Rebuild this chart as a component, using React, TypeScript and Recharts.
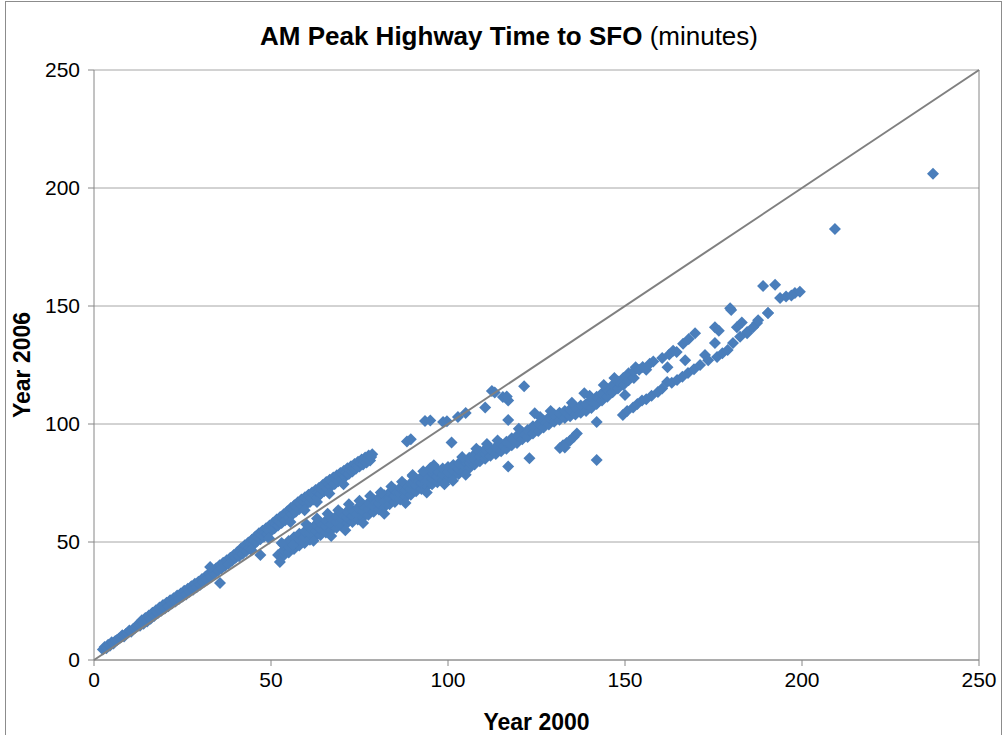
import { CartesianGrid, ReferenceLine, Scatter, ScatterChart, XAxis, YAxis } from "recharts";

type Pt = [number, number];

// dense band just above the diagonal (short trips)
const upperBand: Pt[] = [
  [2.5, 4.5], [3, 5.5], [3.5, 5], [4, 6.5], [4.5, 6], [5, 7.5], [5.5, 7], [6, 8], [6.5, 8.5], [7, 9],
  [7.5, 9.5], [8, 10.5], [8.5, 10], [9, 11], [9.5, 11.5], [10, 12.5], [10.5, 12], [11, 13], [11.5, 13.5],
  [12, 14.5], [12.5, 15],
  [13, 14.5], [13.5, 16.8], [14, 15.4], [14.5, 17.8], [15, 16.3], [15.5, 18.9], [16, 17.5], [16.5, 20],
  [17, 18.6], [17.5, 21.1], [18, 19.8], [18.5, 22.2], [19, 20.9], [19.5, 23.3], [20, 21.8], [20.5, 24.3],
  [21, 22.8], [21.5, 25.3], [22, 23.9], [22.5, 26.2], [23, 24.8], [23.5, 27.3], [24, 25.8], [24.5, 28.2],
  [25, 26.9], [25.5, 29.3], [26, 27.8], [26.5, 30.2], [27, 28.9], [27.5, 31.3], [28, 29.8], [28.5, 32.3],
  [29, 30.8], [29.5, 33.2], [30, 31.9], [30.5, 34.3], [31, 33], [31.5, 35.4], [32, 34.1], [32.5, 36.6],
  [33, 35.3], [33.5, 37.7], [34, 36.5], [34.5, 38.9], [35, 37.8], [35.5, 40.2], [36, 38.8], [36.5, 41.2],
  [37, 39.8], [37.5, 42.3], [38, 40.8], [38.5, 43.3], [39, 42.1], [39.5, 44.5], [40, 43.3], [40.5, 45.8],
  [41, 44], [41.3, 45.7], [41.6, 47.4], [42, 45], [42.3, 46.8], [42.6, 48.6], [43, 46.2], [43.3, 48], [43.6, 49.8],
  [44, 47.5], [44.3, 49.3], [44.6, 51], [45, 48.8], [45.3, 50.6], [45.6, 52.3], [46, 50.2], [46.3, 52], [46.6, 53.7],
  [47, 51.2], [47.3, 53], [47.6, 54.8], [48, 52.2], [48.3, 54], [48.6, 55.8], [49, 53.4], [49.3, 55.2], [49.6, 57],
  [50, 54.7], [50.3, 56.5], [50.6, 58.2], [51, 55.8], [51.3, 57.7], [51.6, 59.5], [52, 57], [52.3, 58.8], [52.6, 60.6],
  [53, 58], [53.3, 60], [53.6, 61.8], [54, 59.2], [54.3, 61.2], [54.6, 63], [55, 60.4], [55.3, 62.5], [55.6, 64.4],
  [56, 61.6], [56.3, 63.7], [56.6, 65.6], [57, 62.8], [57.3, 64.8], [57.6, 66.8], [58, 64], [58.3, 66], [58.6, 68],
  [59, 65], [59.3, 67], [59.6, 69], [60, 66], [60.3, 68], [60.6, 70], [61, 67], [61.3, 69], [61.6, 71],
  [62, 68], [62.3, 70], [62.6, 72], [63, 69], [63.3, 71], [63.6, 73], [64, 70.3], [64.3, 72.3], [64.6, 74.2],
  [65, 71.5], [65.3, 73.5], [65.6, 75.4], [66, 72.6], [66.3, 74.5], [66.6, 76.4], [67, 73.6], [67.3, 75.5], [67.6, 77.3],
  [68, 74.6], [68.3, 76.5], [68.6, 78.3], [69, 75.7], [69.3, 77.5], [69.6, 79.2], [70, 76.7], [70.3, 78.5], [70.6, 80.2],
  [71, 77.8], [71.3, 79.5], [71.6, 81.2], [72, 78.8], [72.3, 80.5], [72.6, 82.1], [73, 79.9], [73.3, 81.5], [73.6, 83],
  [74, 81], [74.3, 82.5], [74.6, 84], [75, 82], [75.3, 83.5], [75.6, 85], [76, 82.8], [76.3, 84.3], [76.6, 85.8],
  [77, 83.7], [77.3, 85.2], [77.6, 86.6], [78, 84.5], [78.3, 86], [78.6, 87.2],
  [44.5, 46.5], [49.5, 51.5], [55.5, 58.5], [59.5, 63.5], [63, 67], [66.5, 70.5], [70.5, 74.5],
];

// lower band under the diagonal (longer trips)
const lowerBand: Pt[] = [
  [52, 44.5], [53.5, 44.2], [53.5, 46.5], [53.5, 48.8], [55, 45.6], [55, 48], [55, 50.4],
  [56.5, 47], [56.5, 49.5], [56.5, 52], [58, 48.5], [58, 51], [58, 53.5], [59.5, 49.6], [59.5, 52], [59.5, 54.4],
  [61, 51], [61, 53.5], [61, 56], [62.5, 52.2], [62.5, 54.7], [62.5, 57.2], [64, 53], [64, 55.5], [64, 58],
  [65.5, 54], [65.5, 56.5], [65.5, 59], [67, 55], [67, 57.5], [67, 60], [68.5, 56], [68.5, 58.5], [68.5, 61],
  [70, 57], [70, 59.5], [70, 62], [71.5, 58], [71.5, 60.5], [71.5, 63], [73, 58.5], [73, 61], [73, 63.5],
  [74.5, 59.5], [74.5, 62], [74.5, 64.5], [76, 60.5], [76, 63], [76, 65.5], [77.5, 61.5], [77.5, 64], [77.5, 66.5],
  [79, 62.8], [79, 65.3], [79, 67.8], [80.5, 63.8], [80.5, 66.3], [80.5, 68.8], [82, 64.8], [82, 67.3], [82, 69.8],
  [83.5, 66], [83.5, 68.5], [83.5, 71], [85, 67], [85, 69.5], [85, 72], [86.5, 68], [86.5, 70.5], [86.5, 73],
  [88, 69], [88, 71.5], [88, 74], [89.5, 70], [89.5, 72.5], [89.5, 75], [91, 71.5], [91, 74], [91, 76.5],
  [92.5, 72.5], [92.5, 75], [92.5, 77.5], [94, 73.5], [94, 76], [94, 78.5], [95.5, 74.5], [95.5, 77], [95.5, 79.5],
  [97, 75.3], [97, 77.8], [97, 80.3], [98.5, 76.1], [98.5, 78.6], [98.5, 81.1], [100, 77], [100, 79.3], [100, 81.8],
  [101.5, 78], [101.5, 80.3], [101.5, 82.6], [103, 78.8], [103, 81], [103, 83.3], [104.5, 80], [104.5, 82.3], [104.5, 84.5],
  [106, 81.3], [106, 83.5], [106, 85.7], [107.5, 82.8], [107.5, 85], [107.5, 87.2], [109, 84.2], [109, 86.3], [109, 88.4],
  [110.5, 85.3], [110.5, 87.3], [110.5, 89.3],
  [112, 86.5], [112, 89.5], [113.5, 87.3], [113.5, 90.3], [115, 88.5], [115, 91.5], [116.5, 89.5], [116.5, 92.5],
  [118, 91], [118, 94], [119.5, 92], [119.5, 95], [121, 93.5], [121, 96.5], [122.5, 94.5], [122.5, 97.5],
  [124, 96], [124, 99], [125.5, 97], [125.5, 100], [127, 98.5], [127, 101.5], [128.5, 99.8], [128.5, 102.8],
  [130, 101], [130, 104], [131.5, 101.8], [131.5, 104.8], [133, 102.5], [133, 105.5], [134.5, 103.3], [134.5, 106.3],
  [136, 104], [136, 107], [137.5, 104.8], [137.5, 107.8], [139, 105.5], [139, 108.5], [140.5, 106.8], [140.5, 109.8],
  [142, 108.5], [142, 111.5], [143.5, 110], [143.5, 113], [145, 111.5], [145, 114.5], [146.5, 113.5], [146.5, 116.5],
  [148, 115], [148, 118], [149.5, 116.5], [149.5, 119.5], [151, 118.5], [151, 121.5], [152.5, 119.5], [152.5, 122.5],
  // ragged edges
  [60, 57.5], [63, 60], [66, 62], [69, 63.5], [72, 66], [75, 67.5], [78, 69.5], [81, 71], [84, 73.5], [87, 75.5],
  [90, 78], [93, 80], [96, 82.5], [62, 50.5], [67, 52.5], [71, 55], [76, 58], [82, 62], [88, 66.5], [94, 71],
  [99, 74.5], [105, 78.5], [114, 93], [120, 98], [126, 103], [129, 105.5], [135, 109], [140, 112], [144, 116.5],
  [147, 119.5], [108, 89.5], [111, 91.5],
];

// upper branch beyond 150
const upperBranch: Pt[] = [
  [153, 124], [154, 123], [155, 124.2], [156, 123], [157, 125.5], [158, 126.5], [160.5, 128], [162, 124],
  [162.5, 129.5], [163.6, 131], [164.6, 130.5], [166.4, 134], [167, 127], [168, 136], [169.8, 138.5],
  [175.4, 141], [176.5, 139.5], [179.7, 149], [180, 148.3], [181.6, 141], [183, 143], [184.5, 138.5],
  [187.3, 142.8], [189, 158.5], [190.4, 147], [192.4, 159], [193.8, 153.4], [195.5, 154], [197, 154.5],
  [198, 155.5], [199.4, 156], [209.3, 182.6], [237, 206],
];

// lower branch beyond 150
const lowerBranch: Pt[] = [
  [149.4, 103.8], [150.6, 105.5], [152.3, 107], [153.5, 108.5], [154.8, 110], [156, 110.5], [157.5, 112],
  [159.3, 113.6], [160.5, 115], [161.9, 117.8], [163.2, 117.5], [164.7, 118.6], [166.2, 120], [167.8, 121.6],
  [169.5, 123.2], [171.2, 125], [172.6, 129.2], [173.5, 127], [175.4, 134.3], [176, 128.4], [177.5, 130],
  [179, 131.4], [180.5, 134.3], [182.5, 137], [184.5, 139], [186.2, 141], [187.6, 144], [190.4, 147],
  [131.6, 89.8], [132.5, 91], [133.5, 92], [134.5, 93], [135.5, 94.5], [136.4, 96], [133, 90],
];

const outliers: Pt[] = [
  [32.8, 39.4], [35.6, 32.6], [47, 44.5], [52.5, 41.5], [53, 49.6], [56, 48.7], [88.4, 92.6], [89.5, 93.5],
  [90, 78.4], [95, 81.4], [93.5, 101.3], [95, 101.5], [98.6, 100.8], [99.7, 101.2], [101, 92.2], [101.4, 76],
  [102.8, 103], [104, 86], [105, 104.7], [110.5, 107], [112.4, 114], [113.2, 113.3], [115.5, 111.4], [117, 110],
  [116.6, 111.6], [117, 101.7], [117, 82], [121.5, 116], [123, 85.5], [124.5, 104.6], [138.5, 113], [142, 84.7],
  [142, 100.8], [150, 112.3],
];

const ticks = [0, 50, 100, 150, 200, 250];

const points = [...upperBand, ...lowerBand, ...upperBranch, ...lowerBranch, ...outliers].map(([x, y]) => ({ x, y }));
const diagonal = [
  { x: 0, y: 0 },
  { x: 250, y: 250 },
];

const font = "'Liberation Sans', Arial, sans-serif";

function Diamond(props: any) {
  const { cx, cy } = props;
  if (cx == null || cy == null) return <g />;
  const r = 6;
  return (
    <polygon
      points={`${cx},${cy - r} ${cx + r},${cy} ${cx},${cy + r} ${cx - r},${cy}`}
      fill="#4A7EBB"
    />
  );
}

export default function App() {
  return (
    <div style={{ position: "absolute", left: 0, top: 0, width: 1003, height: 735, overflow: "hidden", background: "#fff" }}>
      <div
        style={{
          position: "absolute",
          left: 5,
          top: 1,
          width: 995,
          height: 740,
          border: "1px solid #8c8c8c",
        }}
      />
      <div
        style={{
          position: "absolute",
          left: 0,
          top: 21,
          width: 1018,
          textAlign: "center",
          fontFamily: font,
          fontSize: 26,
          color: "#000",
          zIndex: 2,
        }}
      >
        <b>AM Peak Highway Time to SFO</b> (minutes)
      </div>
      <ScatterChart width={1003} height={735} margin={{ top: 70, right: 24, bottom: 0, left: 0 }}>
        <CartesianGrid horizontal vertical={false} stroke="#a6a6a6" />
        <XAxis
          type="number"
          dataKey="x"
          domain={[0, 250]}
          ticks={ticks}
          height={75}
          tickSize={6}
          tickMargin={6}
          axisLine={{ stroke: "#868686" }}
          tickLine={{ stroke: "#868686" }}
          tick={{ fontSize: 21, fill: "#000", fontFamily: font }}
          label={{
            value: "Year 2000",
            position: "insideBottom",
            offset: 5,
            style: { fontSize: 23, fontWeight: "bold", fill: "#000", fontFamily: font },
          }}
        />
        <YAxis
          type="number"
          dataKey="y"
          domain={[0, 250]}
          ticks={ticks}
          width={94}
          tickSize={6}
          tickMargin={8}
          axisLine={{ stroke: "#868686" }}
          tickLine={{ stroke: "#868686" }}
          tick={{ fontSize: 21, fill: "#000", fontFamily: font }}
          label={{
            value: "Year 2006",
            angle: -90,
            position: "insideLeft",
            offset: 22,
            style: { textAnchor: "middle", fontSize: 23, fontWeight: "bold", fill: "#000", fontFamily: font },
          }}
        />
        <ReferenceLine x={250} stroke="#868686" />
        <Scatter data={points} shape={Diamond} isAnimationActive={false} />
        <Scatter
          data={diagonal}
          line={{ stroke: "#808080", strokeWidth: 2 }}
          shape={() => <g />}
          isAnimationActive={false}
        />
      </ScatterChart>
    </div>
  );
}
